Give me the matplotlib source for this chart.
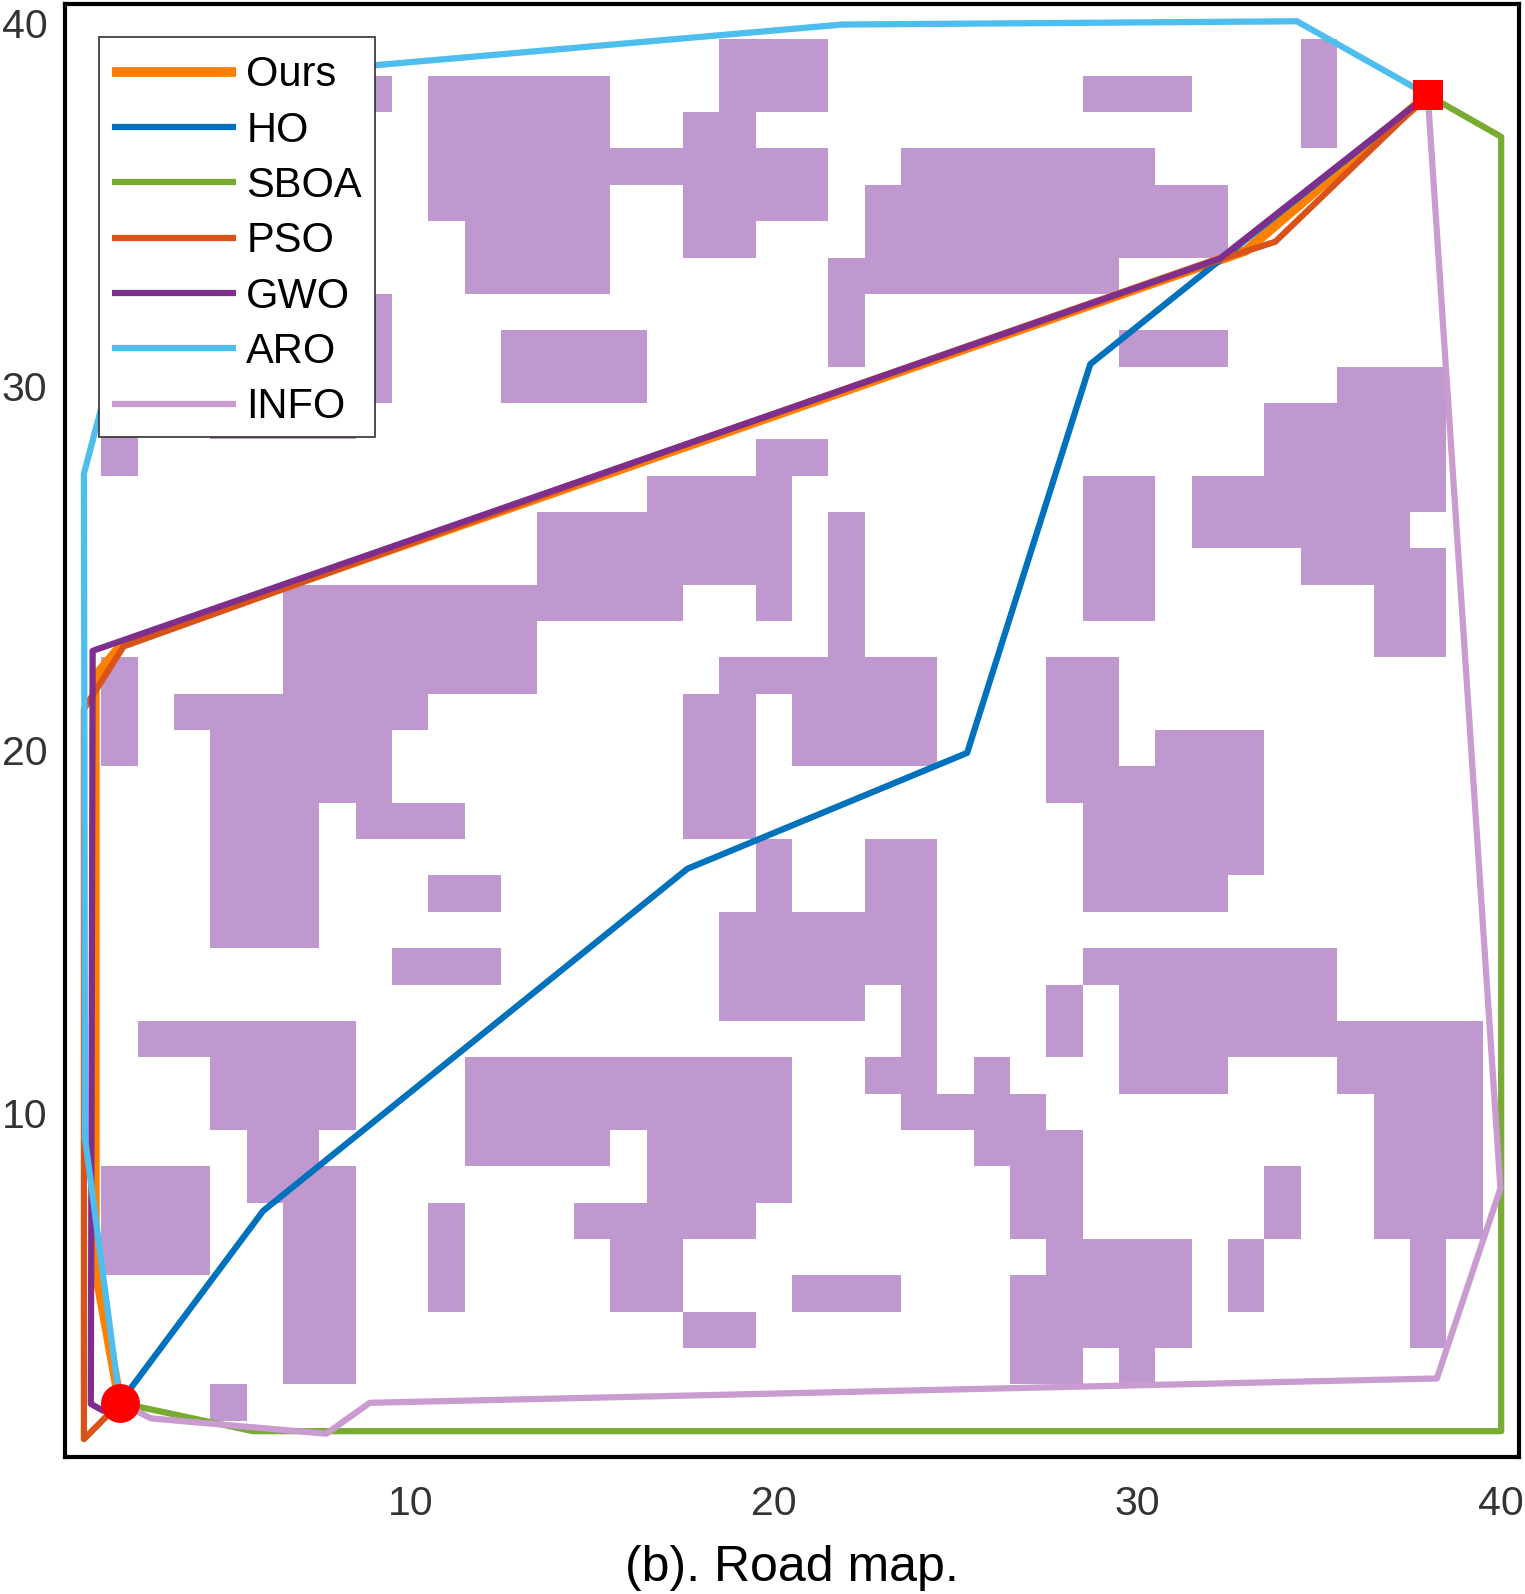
import numpy as np
import matplotlib
matplotlib.use('Agg')
import matplotlib.pyplot as plt
from matplotlib.colors import ListedColormap
from matplotlib.patches import Rectangle
from matplotlib.transforms import ScaledTranslation

plt.rcParams['font.family'] = ['Liberation Sans', 'DejaVu Sans']

# road map: row number -> (first column, last column) runs of blocked cells
blocked = {
    39: [(19, 21), (35, 35)],
    38: [(9, 9), (11, 15), (19, 21), (29, 31), (35, 35)],
    37: [(11, 15), (18, 19), (35, 35)],
    36: [(11, 21), (24, 30)],
    35: [(11, 15), (18, 21), (23, 32)],
    34: [(12, 15), (18, 19), (23, 32)],
    33: [(12, 15), (22, 29)],
    32: [(9, 9), (22, 22)],
    31: [(9, 9), (13, 16), (22, 22), (30, 32)],
    30: [(9, 9), (13, 16), (36, 38)],
    29: [(2, 2), (5, 8), (34, 38)],
    28: [(2, 2), (20, 21), (34, 38)],
    27: [(17, 20), (29, 30), (32, 38)],
    26: [(14, 20), (22, 22), (29, 30), (32, 37)],
    25: [(14, 20), (22, 22), (29, 30), (35, 38)],
    24: [(7, 17), (20, 20), (22, 22), (29, 30), (37, 38)],
    23: [(7, 13), (22, 22), (37, 38)],
    22: [(2, 2), (7, 13), (19, 24), (28, 29)],
    21: [(2, 2), (4, 10), (18, 19), (21, 24), (28, 29)],
    20: [(2, 2), (5, 9), (18, 19), (21, 24), (28, 29), (31, 33)],
    19: [(5, 9), (18, 19), (28, 33)],
    18: [(5, 7), (9, 11), (18, 19), (29, 33)],
    17: [(5, 7), (20, 20), (23, 24), (29, 33)],
    16: [(5, 7), (11, 12), (20, 20), (23, 24), (29, 32)],
    15: [(5, 7), (19, 24)],
    14: [(10, 12), (19, 24), (29, 35)],
    13: [(19, 22), (24, 24), (28, 28), (30, 35)],
    12: [(3, 8), (24, 24), (28, 28), (30, 39)],
    11: [(5, 8), (12, 20), (23, 24), (26, 26), (30, 32), (36, 39)],
    10: [(5, 8), (12, 20), (24, 27), (37, 39)],
    9: [(6, 7), (12, 15), (17, 20), (26, 28), (37, 39)],
    8: [(2, 4), (6, 8), (17, 20), (27, 28), (34, 34), (37, 39)],
    7: [(2, 4), (7, 8), (11, 11), (15, 19), (27, 28), (34, 34), (37, 39)],
    6: [(2, 4), (7, 8), (11, 11), (16, 17), (28, 31), (33, 33), (38, 38)],
    5: [(7, 8), (11, 11), (16, 17), (21, 23), (27, 31), (33, 33), (38, 38)],
    4: [(7, 8), (18, 19), (27, 31), (38, 38)],
    3: [(7, 8), (27, 28), (30, 30)],
    2: [(5, 5)],
}

start = (2, 2)
goal = (38, 38)

ours_x = [2, 1.31, 1.31, 2.1, 33.0, 38]
ours_y = [2, 5.85, 21.98, 22.92, 33.72, 38]
ho_x = [2, 5.94, 17.62, 25.32, 28.71, 32.55, 38]
ho_y = [2, 7.28, 16.7, 19.89, 30.59, 33.67, 38]
sboa_x = [2, 5.66, 40.02, 40.02, 38]
sboa_y = [2, 1.22, 1.22, 36.85, 38]
pso_x = [2, 1.01, 1.01, 1.55, 2.1, 16.87, 32.37, 33.8, 38]
pso_y = [2, 1.0, 21.1, 21.95, 22.82, 28.13, 33.5, 33.96, 38]
gwo_x = [2, 1.54, 1.2, 1.25, 32.28, 38]
gwo_y = [2, 1.78, 1.97, 22.7, 33.5, 38]
aro_x = [2, 1.04, 1.01, 3.8, 9.02, 21.88, 34.4, 38]
aro_y = [2, 9.29, 27.58, 38.1, 38.82, 39.94, 40.03, 38]
info_x = [2, 2.86, 7.68, 8.88, 38.25, 40, 38]
info_y = [2, 1.57, 1.15, 2.0, 2.67, 7.9, 38]

ticks = [10, 20, 30, 40]

grid = np.zeros((40, 40))
for row, runs in blocked.items():
    for first, last in runs:
        grid[row - 1, first - 1:last] = 1

fig = plt.figure(figsize=(15.25, 15.94), dpi=100)
ax = fig.add_axes([65.4 / 1525, (1594 - 1457.3) / 1594, 1453.2 / 1525, 1453.1 / 1594])

ax.imshow(grid, origin='lower', extent=(0.5, 40.5, 0.5, 40.5), aspect='auto',
          interpolation='nearest', cmap=ListedColormap(['white', '#BE98CE']))

line_style = dict(solid_joinstyle='round', solid_capstyle='butt')
ax.plot(ours_x, ours_y, color='#FF8000', lw=7.0, label='Ours', **line_style)
ax.plot(ho_x, ho_y, color='#0072BD', lw=4.5, label='HO', **line_style)
ax.plot(sboa_x, sboa_y, color='#77AC30', lw=4.5, label='SBOA', **line_style)
ax.plot(pso_x, pso_y, color='#D95319', lw=4.5, label='PSO', **line_style)
ax.plot(gwo_x, gwo_y, color='#7E2F8E', lw=4.5, label='GWO', **line_style)
ax.plot(aro_x, aro_y, color='#4DBEEE', lw=4.5, label='ARO', **line_style)
ax.plot(info_x, info_y, color='#CA9BD0', lw=4.5, label='INFO', **line_style)

ax.plot(start[0], start[1], 'o', color='red', ms=28, mew=0, zorder=5, clip_on=False)
ax.plot(goal[0], goal[1], 's', color='red', ms=22, mew=0, zorder=5, clip_on=False)

ax.set_xlim(0.5, 40.5)
ax.set_ylim(0.5, 40.5)
ax.set_xticks(ticks)
ax.set_yticks(ticks)
ax.tick_params(length=0, labelsize=29.5, labelcolor='#333333')
ax.tick_params(axis='x', pad=20)
ax.tick_params(axis='y', pad=13)
ax.set_xlabel('(b). Road map.', fontsize=36, labelpad=16)

# y tick labels sit a little lower than centred
for label in ax.get_yticklabels():
    label.set_transform(label.get_transform() + ScaledTranslation(0, -0.5 / 72, fig.dpi_scale_trans))

for spine in ax.spines.values():
    spine.set_linewidth(3.0)

# legend frame is drawn separately: its padding differs across and down
ax.add_patch(Rectangle((0.0231, 0.7019), 0.1899, 0.2757, transform=ax.transAxes,
                       facecolor='white', edgecolor='#303030', lw=1.2, zorder=3.9))
leg = ax.legend(loc='upper left', bbox_to_anchor=(0.0321, 0.9648), borderaxespad=0,
                fontsize=30, handlelength=2.97, handletextpad=0.25, labelspacing=0.368,
                borderpad=0, frameon=False)
leg.set_zorder(4)

fig.savefig('out.png', dpi=100)
